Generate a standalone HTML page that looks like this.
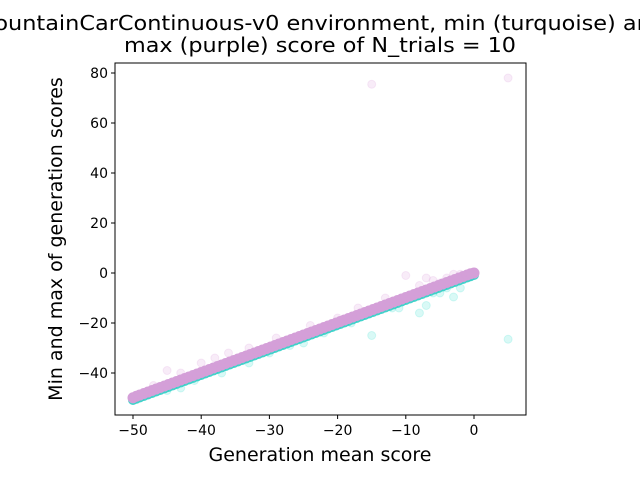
<!DOCTYPE html>
<html><head><meta charset="utf-8"><style>
body{margin:0;background:#fff;width:640px;height:480px;overflow:hidden}
svg{display:block}
text{font-family:"DejaVu Sans","Liberation Sans",sans-serif;fill:#000}
</style></head><body>
<svg id="chart" width="640" height="480" xmlns="http://www.w3.org/2000/svg"></svg>
<script>
const xTicks=[-50,-40,-30,-20,-10,0];
const yTicks=[-40,-20,0,20,40,60,80];
const means=[-50,-49.5,-49,-48.4,-47.8,-47.2,-46.6,-46,-45.4,-44.8,-44.2,-43.6,-43,-42.4,-41.8,-41.2,-40.6,-40,-39.4,-38.8,-38.2,-37.6,-37,-36.4,-35.8,-35.2,-34.6,-34,-33.4,-32.8,-32.2,-31.6,-31,-30.4,-29.8,-29.2,-28.6,-28,-27.4,-26.8,-26.2,-25.6,-25,-24.4,-23.8,-23.2,-22.6,-22,-21.4,-20.8,-20.2,-19.6,-19,-18.4,-17.8,-17.2,-16.6,-16,-15.4,-14.8,-14.2,-13.6,-13,-12.4,-11.8,-11.2,-10.6,-10,-9.4,-8.8,-8.2,-7.6,-7,-6.4,-5.8,-5.2,-4.6,-4,-3.4,-2.8,-2.2,-1.6,-1,-0.5,0];
const mins=[-50.8,-50.3,-49.8,-49.2,-48.6,-48,-47.4,-46.8,-46.2,-45.6,-45,-44.4,-43.8,-43.2,-42.6,-42,-41.4,-40.8,-40.2,-39.6,-39,-38.4,-37.8,-37.2,-36.6,-36,-35.4,-34.8,-34.2,-33.6,-33,-32.4,-31.8,-31.2,-30.6,-30,-29.4,-28.8,-28.2,-27.6,-27,-26.4,-25.8,-25.2,-24.6,-24,-23.4,-22.8,-22.2,-21.6,-21,-20.4,-19.8,-19.2,-18.6,-18,-17.4,-16.8,-16.2,-15.6,-15,-14.4,-13.8,-13.2,-12.6,-12,-11.4,-10.8,-10.2,-9.6,-9,-8.4,-7.8,-7.2,-6.6,-6,-5.4,-4.8,-4.2,-3.6,-3,-2.4,-1.8,-1.3,-0.8];
const maxs=[-49.9,-49.3,-48.8,-48.2,-47.6,-47,-46.4,-45.8,-45.2,-44.6,-44,-43.4,-42.8,-42.2,-41.6,-41,-40.4,-39.8,-39.2,-38.6,-38,-37.4,-36.8,-36.2,-35.6,-35,-34.4,-33.8,-33.2,-32.6,-32,-31.4,-30.8,-30.2,-29.6,-29,-28.4,-27.8,-27.2,-26.6,-26,-25.4,-24.8,-24.2,-23.6,-23,-22.4,-21.8,-21.2,-20.6,-20,-19.4,-18.8,-18.2,-17.6,-17,-16.4,-15.8,-15.2,-14.6,-14,-13.4,-12.8,-12.2,-11.6,-11,-10.4,-9.8,-9.2,-8.6,-8,-7.4,-6.8,-6.2,-5.6,-5,-4.4,-3.8,-3.2,-2.6,-2,-1.4,-0.8,-0.3,0];
const outMinX=[5,-15,-8,-3,-7,-5,-2,-11,-43,-44,-37,-25,-45,-41,-33,-30,-27,-22,-18,-12,-6,-4];
const outMinY=[-26.5,-25,-16,-9.6,-13,-8,-6,-14,-46,-45,-40,-28,-47,-43,-36,-32,-29,-24,-20,-14,-8,-6];
const outMaxX=[5,-15,-10,-7,-3,-5,-8,-1,-36,-45,-40,-20,-47,-43,-38,-33,-29,-24,-17,-13,-6,-2,-4];
const outMaxY=[78,75.5,-1,-2,-0.5,-4,-5,-1,-32,-39,-36,-18,-45,-40,-34,-30,-26,-21,-14,-10,-3,-0.5,-2];

const svg=document.getElementById('chart');
const NS='http://www.w3.org/2000/svg';
const L=115,R=526,T=63,B=415;
const xs=v=>474+(v)*6.82;
const ys=v=>273-(v)*2.5;
function add(tag,attrs,parent){const e=document.createElementNS(NS,tag);for(const k in attrs)e.setAttribute(k,attrs[k]);(parent||svg).appendChild(e);return e;}
const title=add('text',{x:320,y:30,'text-anchor':'middle','font-size':'20',textLength:'690',lengthAdjust:'spacingAndGlyphs'});


title.textContent='MountainCarContinuous-v0 environment, min (turquoise) and';
const title2=add('text',{x:320,y:52,'text-anchor':'middle','font-size':'20',textLength:'392',lengthAdjust:'spacingAndGlyphs'});


title2.textContent='max (purple) score of N_trials = 10';
const g=add('g',{});


function dot(x,y,c,op,r,name){const d=add('circle',{cx:xs(x),cy:ys(y),r:r,fill:c,'fill-opacity':op,stroke:c,'stroke-opacity':op},g);

}
for(let i=0;i<outMinX.length;i++)dot(outMinX[i],outMinY[i],'#40e0d0',0.2,4,'min-outlier');
for(let i=0;i<means.length;i++)dot(means[i],mins[i],'#38d0c8',0.9,4.5,'min-point');
for(let i=0;i<outMaxX.length;i++)dot(outMaxX[i],outMaxY[i],'#dda0dd',0.2,4,'max-outlier');
for(let i=0;i<means.length;i++)dot(means[i],maxs[i],'#d49fd8',1,5,'max-point');
const frame=add('rect',{x:L,y:T,width:R-L,height:B-T,fill:'none',stroke:'#000','stroke-width':1});


xTicks.forEach(v=>{const x=xs(v);add('line',{x1:x,x2:x,y1:B,y2:B+4,stroke:'#000'});
const t=add('text',{x:x,y:B+20,'text-anchor':'middle','font-size':'14'});


t.textContent=v===0?'0':'\u2212'+Math.abs(v);});
yTicks.forEach(v=>{const y=ys(v);add('line',{x1:L-4,x2:L,y1:y,y2:y,stroke:'#000'});
const t=add('text',{x:L-7,y:y+5,'text-anchor':'end','font-size':'14'});


t.textContent=v<0?'\u2212'+Math.abs(v):String(v);});
const xl=add('text',{x:320,y:461,'text-anchor':'middle','font-size':'19'});


xl.textContent='Generation mean score';
const yl=add('text',{x:0,y:0,'text-anchor':'middle','font-size':'19',transform:'translate(62,239) rotate(-90)'});


yl.textContent='Min and max of generation scores';
</script>
</body></html>
